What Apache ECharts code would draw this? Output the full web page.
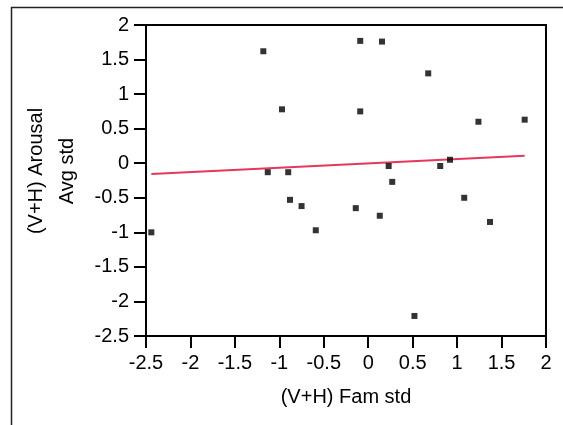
<!DOCTYPE html>
<html><head><meta charset="utf-8">
<script src="https://cdn.jsdelivr.net/npm/echarts@6/dist/echarts.min.js"></script>
<style>html,body{margin:0;padding:0;background:#fff}#c{width:563px;height:425px}</style>
</head><body><div id="c"></div>
<script>
const famStd = [-2.44,-1.18,-0.97,-1.13,-0.90,-0.88,-0.75,-0.59,-0.14,-0.09,-0.09,0.155,0.13,0.23,0.27,0.52,0.675,0.81,0.92,1.08,1.24,1.37,1.76];
const arousalStd = [-1.00,1.62,0.78,-0.13,-0.13,-0.53,-0.62,-0.97,-0.65,1.77,0.75,1.76,-0.76,-0.04,-0.27,-2.21,1.30,-0.04,0.05,-0.50,0.60,-0.85,0.63];
const fitX = [-2.44, 1.76];
const fitY = [-0.156, 0.109];
const xTitle = '(V+H) Fam std';
const yTitle = '(V+H) Arousal\nAvg std';

const FONT = 'Liberation Sans';
const FS = 20;
const chart = echarts.init(document.getElementById('c'));
chart.setOption({
  animation: false,
  backgroundColor: '#fff',
  grid: {left: 146, right: 17, top: 25, bottom: 89, show: true, borderColor: '#000', borderWidth: 2, backgroundColor: 'transparent'},
  graphic: [
    {type: 'rect', shape: {x: 11.5, y: 7.5, width: 700, height: 600}, style: {fill: 'none', stroke: '#222', lineWidth: 1.5}, silent: true},
    {type: 'text', x: 52, y: 171, rotation: Math.PI / 2, style: {text: yTitle, font: FS + 'px "' + FONT + '"', fill: '#000', align: 'center', verticalAlign: 'middle', lineHeight: 31}}
  ],
  xAxis: {
    type: 'value', min: -2.5, max: 2, interval: 0.5,
    name: xTitle, nameLocation: 'middle', nameGap: 51,
    nameTextStyle: {fontFamily: FONT, fontSize: FS, color: '#000'},
    axisLine: {show: true, onZero: false, lineStyle: {color: '#000', width: 2}},
    axisTick: {show: true, length: 12, lineStyle: {color: '#000', width: 2}},
    axisLabel: {fontFamily: FONT, fontSize: FS, color: '#000', margin: 17},
    splitLine: {show: false}
  },
  yAxis: {
    type: 'value', min: -2.5, max: 2, interval: 0.5,
    axisLine: {show: true, onZero: false, lineStyle: {color: '#000', width: 2}},
    axisTick: {show: true, length: 12, lineStyle: {color: '#000', width: 2}},
    axisLabel: {fontFamily: FONT, fontSize: FS, color: '#000', margin: 17},
    splitLine: {show: false}
  },
  series: [
    {type: 'line', data: fitX.map((x, i) => [x, fitY[i]]), showSymbol: false, symbol: 'none',
     lineStyle: {color: '#e8365d', width: 2}, z: 2},
    {type: 'scatter', data: famStd.map((x, i) => [x, arousalStd[i]]), symbol: 'rect', symbolSize: 6,
     itemStyle: {color: '#000'}, z: 3}
  ]
});
</script></body></html>
